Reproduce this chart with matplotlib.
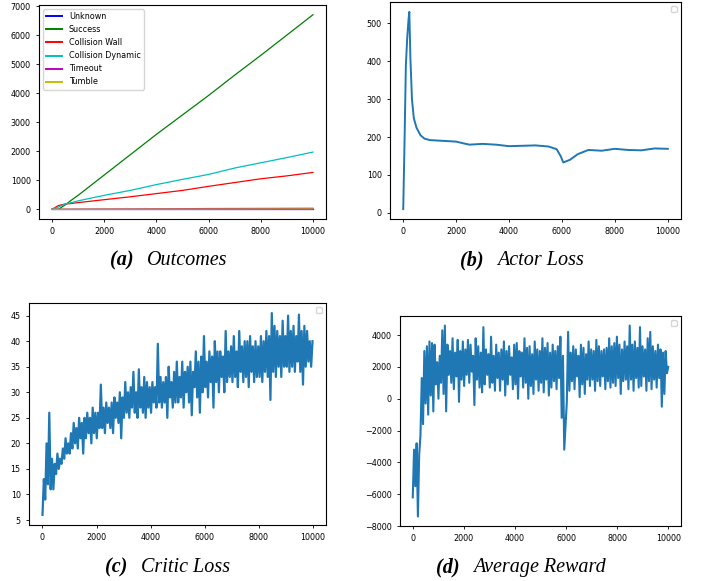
import numpy as np
import matplotlib
matplotlib.use('Agg')
import matplotlib.pyplot as plt

# 数据
outcome_x = [0, 250, 500, 750, 1000, 2000, 3000, 4000, 5000, 6000, 7000, 8000, 9000, 10000]
unknown = [0, 0, 0, 0, 0, 0, 0, 0, 0, 0, 0, 0, 0, 0]
success = [0, 0, 150, 320, 480, 1180, 1880, 2580, 3250, 3920, 4620, 5300, 6000, 6700]
collision_wall = [0, 130, 180, 200, 230, 330, 430, 540, 650, 790, 920, 1050, 1150, 1270]
collision_dynamic = [0, 80, 180, 230, 290, 480, 650, 850, 1030, 1200, 1420, 1600, 1780, 1970]
timeout = [0, 0, 2, 3, 4, 8, 12, 16, 20, 25, 27, 29, 31, 33]
tumble = [0, 0, 1, 1, 1, 2, 3, 4, 5, 6, 7, 8, 9, 10]
outcome_labels = ['Unknown', 'Success', 'Collision Wall', 'Collision Dynamic', 'Timeout', 'Tumble']

actor_x = [0, 50, 100, 150, 200, 230, 270, 330, 400, 500, 650, 800, 1000, 1500, 2000, 2300,
           2500, 3000, 3500, 4000, 4500, 5000, 5500, 5800, 5950, 6050, 6300, 6600, 7000, 7500,
           8000, 8500, 9000, 9500, 10000]
actor_loss = [10, 190, 390, 460, 510, 530, 410, 300, 250, 225, 205, 196, 192, 190, 188, 183,
              180, 182, 180, 176, 177, 178, 175, 168, 150, 133, 140, 155, 166, 164,
              169, 166, 165, 170, 169]

critic_loss = [6, 13, 9, 20, 12, 26, 11, 17, 11, 16,
               14, 18, 15, 17, 16, 19, 17, 21, 18, 20,
               18, 22, 19, 24, 20, 23, 19, 25, 21, 24,
               18, 25, 21, 26, 22, 25, 20, 27, 22, 26,
               21, 26, 23, 31.5, 23, 27, 22, 28, 24, 27,
               23, 28, 22, 29, 25, 28, 24, 30, 21, 29,
               25, 32, 26, 30, 25, 31, 27, 34, 26, 30,
               25, 34.5, 27, 31, 26, 33, 25, 32, 27, 31,
               26, 32, 28, 31, 27, 39.5, 28, 33, 27, 32,
               28, 33, 25, 35, 29, 32, 27, 34, 28, 36,
               28, 33, 29, 36, 27, 34, 30, 35, 28, 36,
               25.5, 34, 31, 38, 29, 36, 26, 37, 30, 41,
               31, 36, 29, 38, 32, 37, 27, 40, 32, 38,
               30, 38, 33, 37, 30, 42, 32, 38, 33, 39,
               32, 41, 33, 38, 31, 42, 34, 39, 32, 40,
               33, 40, 31, 41, 34, 39, 32, 40, 33, 39,
               33, 41, 32, 40, 34, 42, 33, 41, 28.5, 45.5,
               34, 43, 33, 42, 35, 41, 33, 44, 35, 41,
               35, 45, 34, 42, 35, 43, 34, 41, 36, 45.2,
               34, 42, 31.5, 43, 35, 42, 36, 40, 35, 40]

avg_reward = [-6200, -3200, -5500, -2800, -7400, -3500, -2300, 1300, -1600, 3000,
              -300, 3300, -1000, 3600, 200, 3500, -800, 3400, 900, 2300,
              0, 2700, 1000, 4300, 300, 4600, -800, 3400, 1500, 3000,
              1000, 3800, 600, 2900, 1400, 3700, -200, 3000, 1200, 3600,
              800, 3100, 1500, 3700, 1000, 3400, 1700, 2700, -400, 3800,
              1200, 3300, 700, 2900, 400, 4500, 900, 3100, 1500, 2800,
              700, 3900, 1000, 2700, 500, 3400, 1300, 2900, 500, 3100,
              1200, 3600, 200, 3000, 900, 3300, 1500, 2600, 600, 3400,
              900, 3500, 0, 3000, 1400, 2900, 700, 3800, 1000, 3200,
              0, 3300, 800, 2800, 300, 3600, 1200, 3100, 500, 3000,
              1000, 3800, 400, 3200, 1200, 3500, 200, 2900, 700, 3400,
              1100, 3000, 600, 3300, 1300, 3900, -1200, 2700, -3200, -1700,
              -200, 4200, 500, 2900, 1100, 3300, 600, 3100, 1400, 2700,
              100, 3400, 900, 3200, 300, 2800, 1200, 3600, 800, 3100,
              1200, 3000, 500, 3700, 1100, 3300, 800, 3000, 1400, 3100,
              600, 3200, 1100, 3800, 700, 3300, 1000, 3500, 800, 3900,
              1300, 3400, 300, 3100, 1100, 3600, 1200, 3300, 600, 4600,
              1200, 3400, 500, 3600, 1300, 3200, 700, 4500, 800, 3300,
              1400, 3100, 500, 3800, 1100, 4200, 600, 3300, 1200, 3000,
              700, 3400, 1300, 3100, -500, 2900, 300, 3000, 1600, 2000]

W, H = 702, 581
plt.rcParams['font.size'] = 5.8
plt.rcParams['axes.linewidth'] = 0.8
plt.rcParams['xtick.major.width'] = 0.6
plt.rcParams['ytick.major.width'] = 0.6
plt.rcParams['xtick.major.size'] = 2.5
plt.rcParams['ytick.major.size'] = 2.5

fig = plt.figure(figsize=(W / 100, H / 100), dpi=100)


def box(l, t, r, b):
    return [l / W, 1 - b / H, (r - l) / W, (b - t) / H]


# (a) 结果统计
ax1 = fig.add_axes(box(39, 5, 326, 219))
series = [unknown, success, collision_wall, collision_dynamic, timeout, tumble]
for s, lab, c in zip(series, outcome_labels, ['b', 'g', 'r', 'c', 'm', 'y']):
    ax1.plot(outcome_x, s, color=c, lw=0.9, label=lab)
leg = ax1.legend(loc='upper left', fontsize=5.8)
for line in leg.get_lines():
    line.set_linewidth(1.4)

# (b) Actor loss
ax2 = fig.add_axes(box(390, 2, 681, 219))
ax2.plot(actor_x, actor_loss, color='#1f77b4', lw=1.4)
ax2.legend(loc='upper right')

# (c) Critic loss
ax3 = fig.add_axes(box(29, 303, 326, 525))
ax3.plot(np.linspace(0, 10000, len(critic_loss)), critic_loss, color='#1f77b4', lw=1.6)
ax3.legend(loc='upper right')

# (d) Average reward
ax4 = fig.add_axes(box(400, 316, 681, 526))
ax4.plot(np.linspace(0, 10000, len(avg_reward)), avg_reward, color='#1f77b4', lw=1.5)
ax4.set_yticks([-8000, -6000, -4000, -2000, 0, 2000, 4000])
ax4.legend(loc='upper right')

for ax in [ax1, ax2, ax3, ax4]:
    ax.set_xticks([0, 2000, 4000, 6000, 8000, 10000])

# 子图标题
captions = [('(a)', 'Outcomes', 110, 147, 265),
            ('(b)', 'Actor Loss', 460, 497, 265),
            ('(c)', 'Critic Loss', 105, 141, 572),
            ('(d)', 'Average Reward', 436, 473, 572)]
for tag, name, x1, x2, y in captions:
    fig.text(x1 / W, 1 - y / H, tag, family='Liberation Serif', style='italic',
             weight='bold', fontsize=14.5, va='baseline')
    fig.text(x2 / W, 1 - y / H, name, family='Liberation Serif', style='italic',
             fontsize=14.5, va='baseline')

fig.savefig('out.png', dpi=100)
